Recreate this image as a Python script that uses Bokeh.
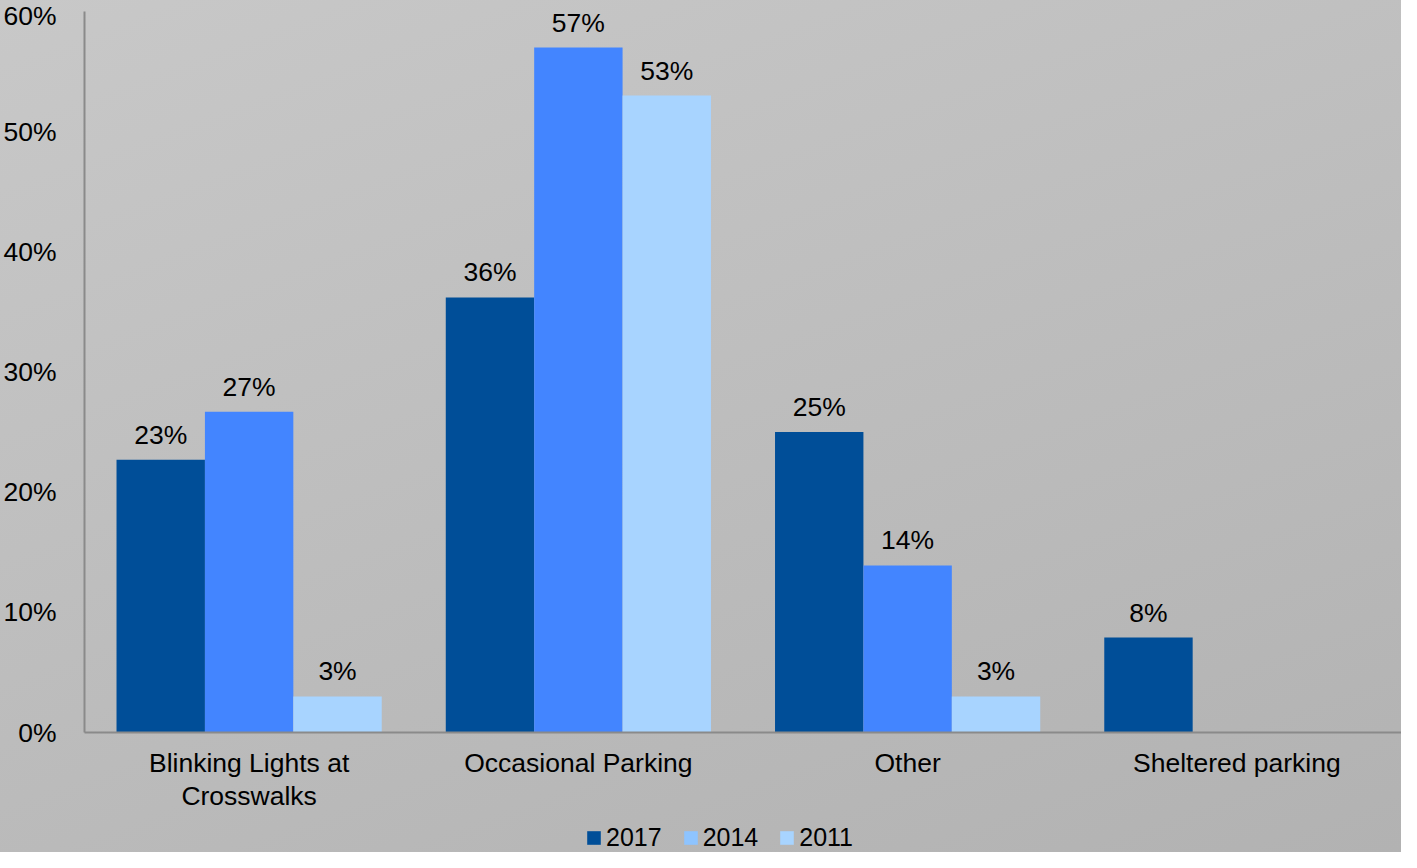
from bokeh.plotting import figure
from bokeh.models import (ColumnDataSource, FactorRange, Range1d, PrintfTickFormatter,
                          Legend, LegendItem, LabelSet)
from bokeh.layouts import column
from bokeh.core.properties import value
from bokeh.transform import dodge
from bokeh.embed import file_html
from bokeh.resources import INLINE

categories = ["Blinking Lights at\nCrosswalks", "Occasional Parking", "Other", "Sheltered parking"]
series = ["2017", "2014", "2011"]
v2017 = [22.7, 36.2, 25.0, 7.9]
v2014 = [26.7, 57.0, 13.9, 0.0]
v2011 = [3.0, 53.0, 3.0, 0.0]
lab2017 = ["23%", "36%", "25%", "8%"]
lab2014 = ["27%", "57%", "14%", ""]
lab2011 = ["3%", "53%", "3%", ""]
y_ticks = [0, 10, 20, 30, 40, 50, 60]

bar_colors = ["#004e98", "#4385ff", "#a8d4ff"]
legend_colors = ["#004e98", "#8ec4ff", "#a8d4ff"]
FONT = "Liberation Sans"
FS = "26.5px"

src = ColumnDataSource(dict(cat=categories, v2017=v2017, v2014=v2014, v2011=v2011,
                            l2017=lab2017, l2014=lab2014, l2011=lab2011))

p = figure(x_range=FactorRange(factors=categories, range_padding=0),
           y_range=Range1d(0, 60),
           width=1401, height=814, output_backend="svg", toolbar_location=None,
           min_border_left=0, min_border_right=0, min_border_top=11, min_border_bottom=80)

p.background_fill_alpha = 0
p.border_fill_alpha = 0
p.outline_line_color = None

w = 0.2685
offsets = [-w, 0.0, w]
cols = ["v2017", "v2014", "v2011"]
labs = ["l2017", "l2014", "l2011"]
for col, lab, off, c in zip(cols, labs, offsets, bar_colors):
    p.vbar(x=dodge("cat", off, range=p.x_range), top=col, width=w, source=src,
           fill_color=c, line_color=None)
    ls = LabelSet(x=dodge("cat", off, range=p.x_range), y=col, text=lab, source=src,
                  text_align="center", text_baseline="middle", y_offset=25,
                  text_font=value(FONT), text_font_size=FS, text_color="#000000")
    p.add_layout(ls)

p.xgrid.grid_line_color = None
p.ygrid.grid_line_color = None

p.yaxis.ticker = y_ticks
p.yaxis.formatter = PrintfTickFormatter(format="%d%%")
p.yaxis.major_tick_line_color = None
p.yaxis.minor_tick_line_color = None
p.yaxis.axis_line_color = "#8a8a8a"
p.yaxis.axis_line_width = 2
p.yaxis.major_label_standoff = 22
p.yaxis.major_label_text_font = FONT
p.yaxis.major_label_text_font_size = FS
p.yaxis.major_label_text_color = "#000000"

p.xaxis.major_tick_line_color = None
p.xaxis.minor_tick_line_color = None
p.xaxis.axis_line_color = "#8a8a8a"
p.xaxis.axis_line_width = 2
p.xaxis.major_label_standoff = 9
p.xaxis.major_label_text_font = FONT
p.xaxis.major_label_text_font_size = FS
p.xaxis.major_label_text_color = "#000000"
p.xaxis.major_label_text_line_height = 1.12

# legend strip below the chart
leg = figure(width=1401, height=38, output_backend="svg", toolbar_location=None,
             x_range=Range1d(0, 1), y_range=Range1d(0, 1),
             x_axis_type=None, y_axis_type=None,
             min_border_left=0, min_border_right=0, min_border_top=0, min_border_bottom=0)
leg.background_fill_alpha = 0
leg.border_fill_alpha = 0
leg.outline_line_color = None
leg.xgrid.grid_line_color = None
leg.ygrid.grid_line_color = None

items = []
for name, c in zip(series, legend_colors):
    r = leg.vbar(x=[0.5], top=[0.0], bottom=[0.0], width=0.0, fill_color=c, line_color=None)
    items.append(LegendItem(label=name, renderers=[r]))

legend = Legend(items=items, orientation="horizontal", location=(501, 0),
                background_fill_alpha=0, border_line_color=None,
                label_text_font=FONT, label_text_font_size="25px", label_text_color="#000000",
                glyph_width=17, glyph_height=17, spacing=20, label_standoff=4,
                padding=0, margin=0, label_height=24)
leg.add_layout(legend)

layout = column(p, leg, spacing=0)
layout.styles = {"background": "linear-gradient(160deg, #c8c8c8 0%, #b2b2b2 100%)"}

open("out.html", "w").write(file_html(layout, INLINE))
